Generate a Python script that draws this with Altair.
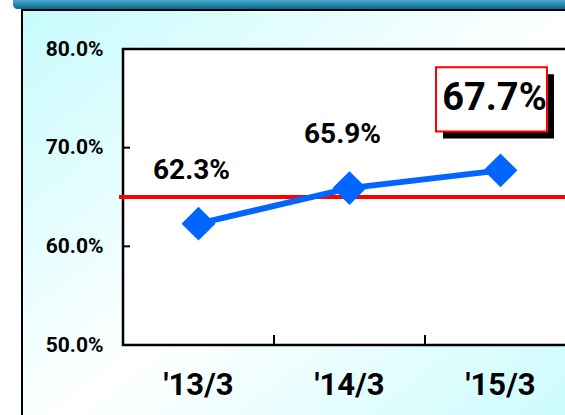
import altair as alt
import pandas as pd

# Fiscal year-end periods and the ratio for each (%)
periods = ["'13/3", "'14/3", "'15/3"]
ratios = [62.3, 65.9, 67.7]
y_tick_values = [50, 60, 70, 80]
target_level = 65.0

W, H = 442, 296      # plot area (it runs past the right edge of the page)
XR = 453             # x range: three 151px bands

df = pd.DataFrame({"period": periods, "ratio": ratios})
df["label"] = [f"{v:.1f}%" for v in ratios]
ticks_df = pd.DataFrame({"ratio": y_tick_values})
target_df = pd.DataFrame({"ratio": [target_level]})
one = pd.DataFrame({"k": [0]})

FONT = "Roboto, Liberation Sans, sans-serif"

x_scale = alt.Scale(type="band", domain=periods, range=[0, XR], paddingInner=0, paddingOuter=0)
y_scale = alt.Scale(domain=[50, 80], nice=False, zero=False)

x_axis = alt.Axis(title=None, labelAngle=0, ticks=False, tickSize=0, domain=False, grid=False,
                  bandPosition=0.5, labelAlign="center", labelBaseline="top",
                  labelFont=FONT, labelFontSize=31, labelFontWeight="bold",
                  labelColor="black", labelPadding=25, zindex=1)
y_axis = alt.Axis(title=None, values=y_tick_values, ticks=False, tickSize=0, domain=False,
                  grid=False, labelExpr="format(datum.value, '.1f') + '%'",
                  labelFont=FONT, labelFontSize=21, labelFontWeight="bold",
                  labelColor="black", labelPadding=20, zindex=1)

x_enc = alt.X("period:N", scale=x_scale, axis=x_axis)
y_enc = alt.Y("ratio:Q", scale=y_scale, axis=y_axis)

# Framed backdrop with a diagonal cyan-white-cyan wash
backdrop = alt.Chart(one).mark_rect(
    fill=alt.LinearGradient(
        gradient="linear", x1=0, y1=0, x2=1, y2=1,
        stops=[alt.GradientStop(color="#c6fbfd", offset=0),
               alt.GradientStop(color="#ffffff", offset=0.5),
               alt.GradientStop(color="#c6fbfd", offset=1)]),
    stroke="black", strokeWidth=2,
).encode(x=alt.value(-101), x2=alt.value(460), y=alt.value(-39), y2=alt.value(400))

# Teal header strip
header = alt.Chart(one).mark_rect(
    fill=alt.LinearGradient(
        gradient="linear", x1=0, y1=0, x2=0, y2=1,
        stops=[alt.GradientStop(color="#4aa8d0", offset=0),
               alt.GradientStop(color="#0a6a8a", offset=1)]),
    cornerRadiusBottomLeft=7,
).encode(x=alt.value(-110), x2=alt.value(460), y=alt.value(-49), y2=alt.value(-40))

# White plot area with a black border
plot_bg = alt.Chart(one).mark_rect(fill="white", stroke="black", strokeWidth=2.5).encode(
    x=alt.value(0), x2=alt.value(470), y=alt.value(0), y2=alt.value(H)
)

# Inward tick marks
y_ticks = alt.Chart(ticks_df).mark_rule(color="black", strokeWidth=2).encode(
    y=alt.Y("ratio:Q", scale=y_scale, axis=y_axis), x=alt.value(0), x2=alt.value(7)
)
x_ticks = alt.Chart(df).mark_rule(color="black", strokeWidth=2).encode(
    x=alt.X("period:N", scale=x_scale, axis=x_axis, bandPosition=0),
    y=alt.value(H - 10), y2=alt.value(H),
)

# Reference level
target = alt.Chart(target_df).mark_rule(color="#ff0000", strokeWidth=4).encode(
    y=alt.Y("ratio:Q", scale=y_scale, axis=y_axis), x=alt.value(-4), x2=alt.value(470)
)

base = alt.Chart(df).encode(x=x_enc, y=y_enc)

line = base.mark_line(color="#0066ff", strokeWidth=6)
points = base.mark_point(shape="diamond", filled=True, size=1150, color="#0066ff", opacity=1)

last = base.transform_filter(alt.datum.period == periods[-1])
box_path = "M-1,-0.577L1,-0.577L1,0.577L-1,0.577Z"
shadow = last.mark_point(shape=box_path, filled=True, size=12321, color="black", opacity=1,
                         xOffset=-2, yOffset=-64)
box = last.mark_point(shape=box_path, filled=True, size=12321, fill="white", opacity=1,
                      stroke="#ff0000", strokeWidth=2, xOffset=-9, yOffset=-71)

labels = base.transform_filter(alt.datum.period != periods[-1]).mark_text(
    font=FONT, fontSize=28, fontWeight="bold", color="black", dx=-7, dy=-53
).encode(text="label:N")
last_label = last.mark_text(
    font=FONT, fontSize=38, fontWeight="bold", color="black", dx=-6, dy=-71
).encode(text="label:N")

chart = alt.layer(
    backdrop, header, plot_bg, y_ticks, x_ticks, target, line, points,
    shadow, box, labels, last_label,
).properties(
    width=W, height=H,
    autosize=alt.AutoSizeParams(type="none"),
    padding={"left": 123, "top": 49, "right": 0, "bottom": 70},
).configure(background="white").configure_view(stroke=None)

chart.save("out.html", embed_options={"renderer": "svg", "actions": False})
